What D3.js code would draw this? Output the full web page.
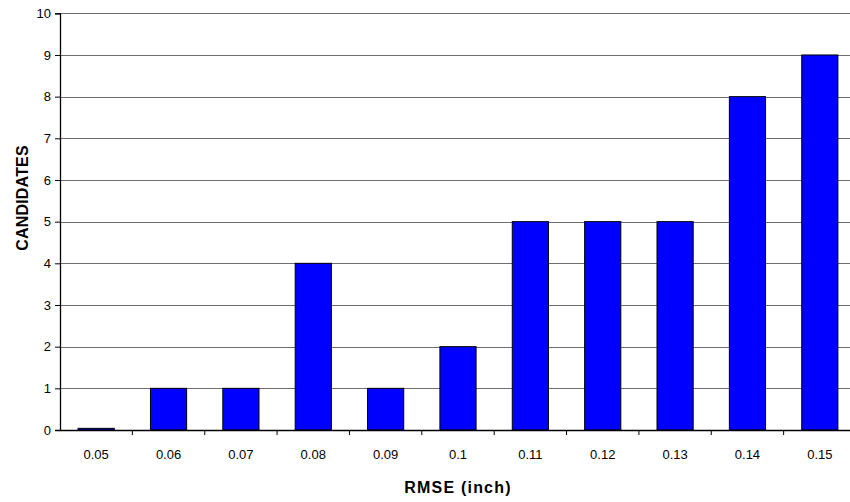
<!DOCTYPE html>
<html><head><meta charset="utf-8">
<script src="https://cdn.jsdelivr.net/npm/d3@7"></script>
<style>body{margin:0;background:#fff}svg{display:block;font-family:"Liberation Sans",Arial,sans-serif}</style>
</head><body><svg id="c" width="850" height="502"></svg>
<script>
const categories = ["0.05","0.06","0.07","0.08","0.09","0.1","0.11","0.12","0.13","0.14","0.15"];
const values = [0.04,1,1,4,1,2,5,5,5,8,9];
const yTicks = [0,1,2,3,4,5,6,7,8,9,10];

const svg = d3.select("#c");
const m = {left:60, top:13.3, right:856, bottom:430};
const x = d3.scaleBand().domain(categories).range([m.left, m.right]).paddingInner(0.5).paddingOuter(0.25);
const xb = d3.scaleBand().domain(categories).range([m.left, m.right]);
const y = d3.scaleLinear().domain([0,10]).range([m.bottom, m.top]);

// gridlines
svg.append("g").selectAll("line").data(yTicks.filter(d=>d>0)).join("line")
  .attr("x1", m.left).attr("x2", m.right)
  .attr("y1", d=>Math.round(y(d))+0.5).attr("y2", d=>Math.round(y(d))+0.5)
  .attr("stroke", "#6e6e6e").attr("stroke-width", 1);

// bars
svg.append("g").selectAll("rect").data(values).join("rect")
  .attr("x", (d,i)=>x(categories[i]))
  .attr("y", d=>y(d))
  .attr("width", x.bandwidth())
  .attr("height", d=>y(0)-y(d))
  .attr("fill", "#0000ff").attr("stroke", "#000").attr("stroke-width", 1);

// y axis
const ya = svg.append("g").attr("transform", `translate(${m.left},0)`)
  .call(d3.axisLeft(y).tickValues(yTicks).tickSize(5).tickPadding(4).tickFormat(d3.format("d")));
ya.select(".domain").attr("stroke","#000").attr("stroke-width",1.3);
ya.selectAll(".tick line").attr("stroke","#000");
ya.selectAll("text").attr("font-size", 13).attr("fill","#000").attr("font-family","Liberation Sans, Arial, sans-serif");

// x axis
const xa = svg.append("g").attr("transform", `translate(0,${m.bottom})`)
  .call(d3.axisBottom(xb).tickSize(0).tickPadding(19.5));
xa.select(".domain").attr("stroke","#000").attr("stroke-width",1.3);
xa.selectAll("text").attr("font-size", 13).attr("fill","#000").attr("font-family","Liberation Sans, Arial, sans-serif");
svg.append("g").selectAll("line").data(categories.slice(1)).join("line")
  .attr("x1", d=>xb(d)).attr("x2", d=>xb(d))
  .attr("y1", m.bottom).attr("y2", m.bottom+5)
  .attr("stroke","#000");

// axis titles
svg.append("text").attr("x", 458).attr("y", 493).attr("text-anchor","middle")
  .attr("font-size", 16).attr("font-weight","bold").attr("letter-spacing", 1.2).text("RMSE (inch)");
svg.append("text").attr("transform","translate(28,198) rotate(-90)").attr("text-anchor","middle")
  .attr("font-size", 16).attr("font-weight","bold").attr("letter-spacing", 0.2).text("CANDIDATES");
</script></body></html>
